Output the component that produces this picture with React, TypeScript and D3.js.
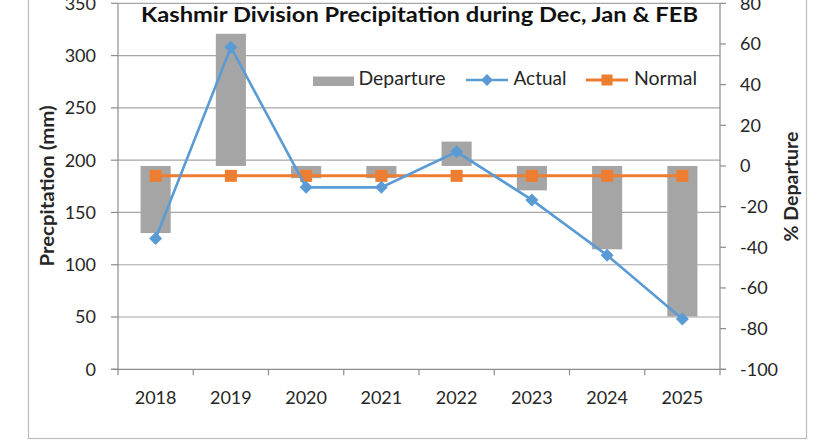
import React from "react";
import * as d3 from "d3";

const years = ["2018", "2019", "2020", "2021", "2022", "2023", "2024", "2025"];
const actual = [125, 308, 174, 174, 208, 162, 109, 48];
const normal = [185, 185, 185, 185, 185, 185, 185, 185];
const departure = [-33, 65, -6, -6, 12, -12, -41, -74];
const leftTicks = [0, 50, 100, 150, 200, 250, 300, 350];
const rightTicks = [-100, -80, -60, -40, -20, 0, 20, 40, 60, 80];

const W = 840;
const H = 440;
const FONT = "Lato, 'Open Sans', sans-serif";
const TXT = "#262626";

export default function App() {
  const x0 = 118;
  const x1 = 720;
  const yBottom = 369.3;
  const yTop = 3.3;
  const x = d3.scaleBand<string>().domain(years).range([x0, x1]).padding(0);
  const yL = d3.scaleLinear().domain([0, 350]).range([yBottom, yTop]);
  const yR = d3.scaleLinear().domain([-100, 80]).range([yBottom, yTop]);
  const bw = x.bandwidth();
  const cx = (y: string) => (x(y) as number) + bw / 2;
  const barW = bw * 0.4;

  const line = d3
    .line<number>()
    .x((_, i) => cx(years[i]))
    .y((d) => yL(d));

  const diamond = (px: number, py: number, r: number) =>
    `M${px},${py - r}L${px + r},${py}L${px},${py + r}L${px - r},${py}Z`;

  const blue = "#5B9BD5";
  const orange = "#ED7D31";
  const gray = "#A5A5A5";
  const grid = "#A6A6A6";
  const axis = "#8C8C8C";

  return (
    <svg
      width={W}
      height={H}
      style={{ position: "absolute", left: 0, top: 0, background: "#fff" }}
      fontFamily={FONT}
    >
      <rect x={0} y={0} width={W} height={H} fill="#fff" />
      {/* chart border */}
      <rect x={28.5} y={-10} width={778} height={448.5} fill="none" stroke="#BDBDBD" strokeWidth={1.2} />

      {/* gridlines */}
      {leftTicks.slice(1).map((t) => (
        <line key={"g" + t} x1={x0} x2={x1} y1={yL(t)} y2={yL(t)} stroke={grid} strokeWidth={1.2} />
      ))}

      {/* bars */}
      {departure.map((d, i) => (
        <rect
          key={"b" + i}
          x={cx(years[i]) - barW / 2}
          y={Math.min(yR(d), yR(0))}
          width={barW}
          height={Math.abs(yR(d) - yR(0))}
          fill={gray}
        />
      ))}

      {/* axes */}
      <line x1={x0} x2={x0} y1={yTop} y2={yBottom} stroke={axis} strokeWidth={1.2} />
      <line x1={x1} x2={x1} y1={yTop} y2={yBottom + 6} stroke={axis} strokeWidth={1.2} />
      <line x1={x0 - 7} x2={x1 + 6} y1={yBottom} y2={yBottom} stroke={axis} strokeWidth={1.2} />
      {leftTicks.map((t) => (
        <g key={"lt" + t}>
          <line x1={x0 - 7} x2={x0} y1={yL(t)} y2={yL(t)} stroke={axis} strokeWidth={1.2} />
          <text x={96} y={yL(t)} dy="0.36em" textAnchor="end" fontSize={18} fill={TXT}>
            {t}
          </text>
        </g>
      ))}
      {rightTicks.map((t) => (
        <g key={"rt" + t}>
          <line x1={x1} x2={x1 + 6} y1={yR(t)} y2={yR(t)} stroke={axis} strokeWidth={1.2} />
          <text x={740} y={yR(t)} dy="0.36em" textAnchor="start" fontSize={18} fill={TXT}>
            {t}
          </text>
        </g>
      ))}
      {years.map((yv) => (
        <g key={"xt" + yv}>
          <line
            x1={x(yv) as number}
            x2={x(yv) as number}
            y1={yBottom}
            y2={yBottom + 6}
            stroke={axis}
            strokeWidth={1.2}
          />
          <text x={cx(yv)} y={403.5} textAnchor="middle" fontSize={18} fill={TXT}>
            {yv}
          </text>
        </g>
      ))}

      {/* normal line */}
      <path d={line(normal) || ""} fill="none" stroke={orange} strokeWidth={3} />
      {normal.map((v, i) => (
        <rect key={"n" + i} x={cx(years[i]) - 6} y={yL(v) - 6} width={12} height={12} fill={orange} />
      ))}

      {/* actual line */}
      <path d={line(actual) || ""} fill="none" stroke={blue} strokeWidth={2.6} />
      {actual.map((v, i) => (
        <path key={"a" + i} d={diamond(cx(years[i]), yL(v), 6.5)} fill={blue} />
      ))}

      {/* title */}
      <text
        x={419.5}
        y={21.5}
        textAnchor="middle"
        fontSize={20.5}
        fontWeight="bold"
        fill="#111"
        textLength={557}
        lengthAdjust="spacingAndGlyphs"
      >
        Kashmir Division Precipitation during Dec, Jan &amp; FEB
      </text>

      {/* legend */}
      <rect x={313} y={76.5} width={41} height={9.5} fill={gray} />
      <text x={358.5} y={84.5} fontSize={19.5} fill={TXT} textLength={87} lengthAdjust="spacingAndGlyphs">
        Departure
      </text>
      <line x1={466} x2={508} y1={80} y2={80} stroke={blue} strokeWidth={2.6} />
      <path d={diamond(487, 80, 6)} fill={blue} />
      <text x={513.5} y={84.5} fontSize={19.5} fill={TXT} textLength={53} lengthAdjust="spacingAndGlyphs">
        Actual
      </text>
      <line x1={586} x2={628} y1={80} y2={80} stroke={orange} strokeWidth={3} />
      <rect x={601.5} y={74.5} width={11} height={11} fill={orange} />
      <text x={634} y={84.5} fontSize={19.5} fill={TXT} textLength={63} lengthAdjust="spacingAndGlyphs">
        Normal
      </text>

      {/* axis titles */}
      <text
        transform={`translate(54,186) rotate(-90)`}
        textAnchor="middle"
        fontSize={19.5}
        fontWeight="bold"
        fill={TXT}
        textLength={161}
        lengthAdjust="spacingAndGlyphs"
      >
        Precpitation (mm)
      </text>
      <text
        transform={`translate(798,186.5) rotate(-90)`}
        textAnchor="middle"
        fontSize={19}
        fontWeight="bold"
        fill={TXT}
        textLength={110}
        lengthAdjust="spacingAndGlyphs"
      >
        % Departure
      </text>
    </svg>
  );
}
